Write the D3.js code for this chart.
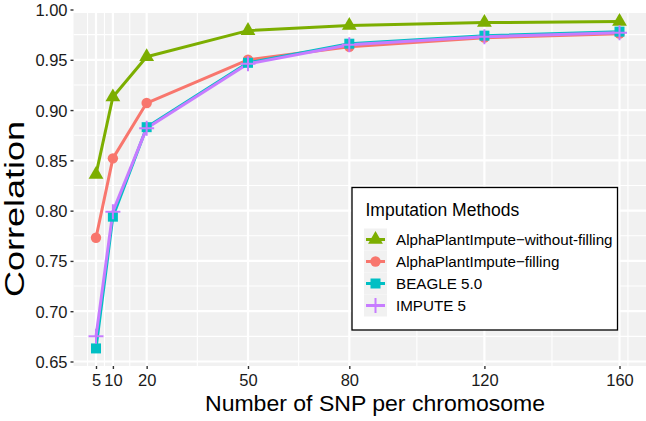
<!DOCTYPE html>
<html>
<head>
<meta charset="utf-8">
<script src="https://cdn.jsdelivr.net/npm/d3@7"></script>
<style>
  body { margin: 0; background: #ffffff; }
  text { font-family: "Liberation Sans", Arial, sans-serif; }
</style>
</head>
<body>
<svg id="chart" width="646" height="421"></svg>
<script>
"use strict";

// data
var snpCounts = [5, 10, 20, 50, 80, 120, 160];
var methodNames = ["AlphaPlantImpute\u2212without-filling", "AlphaPlantImpute\u2212filling", "BEAGLE 5.0", "IMPUTE 5"];
var withoutFilling = [0.836, 0.913, 0.953, 0.979, 0.984, 0.987, 0.988];
var withFilling    = [0.773, 0.852, 0.907, 0.950, 0.963, 0.972, 0.976];
var beagle5        = [0.663, 0.794, 0.883, 0.947, 0.966, 0.974, 0.978];
var impute5        = [0.675, 0.799, 0.882, 0.946, 0.965, 0.973, 0.977];
var yTicks = [0.65, 0.70, 0.75, 0.80, 0.85, 0.90, 0.95, 1.00];
var methodColours = ["#7CAE00", "#F8766D", "#00BFC4", "#C77CFF"];
var methodShapes = ["triangle", "circle", "square", "plus"];

var series = [withoutFilling, withFilling, beagle5, impute5].map(function(vals, i) {
  return { name: methodNames[i], colour: methodColours[i], shape: methodShapes[i],
           points: vals.map(function(v, j) { return { x: snpCounts[j], y: v }; }) };
});

var panel = { x: 73.5, y: 13, w: 646 - 73.5, h: 366 - 13 };

var x = d3.scaleLinear().domain([5, 160]).range([96, 619.5]);
var y = d3.scaleLinear().domain([0.65, 1.00]).range([361.5, 9.5]);

var svg = d3.select("#chart");

// minor breaks, ggplot style (midpoints, extended past the ends)
var minorX = (function(b) {
  var bd = b[1] - b[0];
  var ext = [b[0] - bd].concat(b).concat([b[b.length - 1] + bd]);
  var out = [];
  for (var i = 0; i < ext.length - 1; i++) out.push((ext[i] + ext[i + 1]) / 2);
  return out;
})(snpCounts);
var minorY = [0.625].concat(yTicks.map(function(t) { return t + 0.025; }));

svg.append("defs").append("clipPath").attr("id", "clip")
  .append("rect")
    .attr("x", panel.x).attr("y", panel.y)
    .attr("width", panel.w).attr("height", panel.h);

// panel background
svg.append("rect")
  .attr("x", panel.x).attr("y", panel.y)
  .attr("width", panel.w).attr("height", panel.h)
  .style("fill", "#F1F1F1");

var grid = svg.append("g").attr("clip-path", "url(#clip)");
grid.selectAll(".minor-x").data(minorX).enter().append("line")
  .attr("x1", function(d) { return x(d); }).attr("x2", function(d) { return x(d); })
  .attr("y1", panel.y).attr("y2", panel.y + panel.h)
  .style("stroke", "#fff").style("stroke-width", 1.1);
grid.selectAll(".minor-y").data(minorY).enter().append("line")
  .attr("y1", function(d) { return y(d); }).attr("y2", function(d) { return y(d); })
  .attr("x1", panel.x).attr("x2", panel.x + panel.w)
  .style("stroke", "#fff").style("stroke-width", 1.1);
grid.selectAll(".major-x").data(snpCounts).enter().append("line")
  .attr("x1", function(d) { return x(d); }).attr("x2", function(d) { return x(d); })
  .attr("y1", panel.y).attr("y2", panel.y + panel.h)
  .style("stroke", "#fff").style("stroke-width", 2.2);
grid.selectAll(".major-y").data(yTicks).enter().append("line")
  .attr("y1", function(d) { return y(d); }).attr("y2", function(d) { return y(d); })
  .attr("x1", panel.x).attr("x2", panel.x + panel.w)
  .style("stroke", "#fff").style("stroke-width", 2.2);

// axes
var xAxis = svg.append("g")
  .attr("transform", "translate(0," + (panel.y + panel.h) + ")")
  .call(d3.axisBottom(x).tickValues(snpCounts).tickSize(3).tickPadding(5));
var yAxis = svg.append("g")
  .attr("transform", "translate(" + panel.x + ",0)")
  .call(d3.axisLeft(y).tickValues(yTicks).tickFormat(d3.format(".2f")).tickSize(3).tickPadding(3));
[xAxis, yAxis].forEach(function(a) {
  a.select(".domain").remove();
  a.selectAll(".tick line").style("stroke", "#333").style("stroke-width", 1.4);
  a.selectAll(".tick text").style("fill", "#1a1a1a").style("font-size", "16.5px")
    .style("font-family", "'Liberation Sans', Arial, sans-serif");
});
yAxis.selectAll(".tick text").attr("dy", "0.36em");

// axis titles (stretched to the reference's extent)
svg.append("text")
  .attr("x", 375).attr("y", 411)
  .attr("text-anchor", "middle")
  .attr("textLength", 340).attr("lengthAdjust", "spacingAndGlyphs")
  .style("font-size", "21.5px").style("fill", "#000")
  .text("Number of SNP per chromosome");
svg.append("text")
  .attr("transform", "translate(23.5,209) rotate(-90)")
  .attr("text-anchor", "middle")
  .attr("textLength", 176).attr("lengthAdjust", "spacingAndGlyphs")
  .style("font-size", "27px").style("fill", "#000")
  .text("Correlation");

// point glyphs
function shapePath(shape) {
  switch (shape) {
    case "triangle": return d3.symbol().type(d3.symbolTriangle).size(95)();
    case "circle":   return d3.symbol().type(d3.symbolCircle).size(85)();
    case "square":   return d3.symbol().type(d3.symbolSquare).size(100)();
    case "plus":     return "M-7.5,0H7.5M0,-7.5V7.5";
  }
}
function drawPoint(sel, s) {
  sel.attr("d", shapePath(s.shape))
    .style("fill", s.shape === "plus" ? "none" : s.colour)
    .style("stroke", s.shape === "plus" ? s.colour : "none")
    .style("stroke-width", 2);
}

var line = d3.line().x(function(d) { return x(d.x); }).y(function(d) { return y(d.y); });
var marks = svg.append("g");
marks.selectAll(".series-line").data(series).enter().append("path")
  .attr("d", function(d) { return line(d.points); })
  .style("fill", "none")
  .style("stroke", function(d) { return d.colour; })
  .style("stroke-width", 3)
  .style("stroke-linejoin", "round");
series.forEach(function(s) {
  marks.selectAll(null).data(s.points).enter().append("path")
    .attr("transform", function(d) { return "translate(" + x(d.x) + "," + y(d.y) + ")"; })
    .call(drawPoint, s);
});

// legend
var legend = svg.append("g");
legend.append("rect")
  .attr("x", 352).attr("y", 187.5).attr("width", 265.5).attr("height", 142.5)
  .style("fill", "#fff").style("stroke", "#000").style("stroke-width", 1.3);
legend.append("text")
  .attr("x", 365.5).attr("y", 216)
  .style("font-size", "17.5px").style("fill", "#000")
  .text("Imputation Methods");
var rows = legend.selectAll(".row").data(series).enter().append("g")
  .attr("transform", function(d, i) { return "translate(0," + (239.5 + i * 22) + ")"; });
rows.append("rect")
  .attr("x", 364).attr("y", -11).attr("width", 23).attr("height", 22)
  .style("fill", "#F1F1F1");
rows.append("line")
  .attr("x1", 366).attr("x2", 385).attr("y1", 0).attr("y2", 0)
  .style("stroke", function(d) { return d.colour; }).style("stroke-width", 3);
rows.append("path")
  .attr("transform", "translate(375.5,0)")
  .each(function(d) { d3.select(this).call(drawPoint, d); });
rows.append("text")
  .attr("x", 396).attr("y", 0).attr("dy", "0.36em")
  .style("font-size", "15.2px").style("fill", "#000")
  .text(function(d) { return d.name; });
</script>
</body>
</html>
